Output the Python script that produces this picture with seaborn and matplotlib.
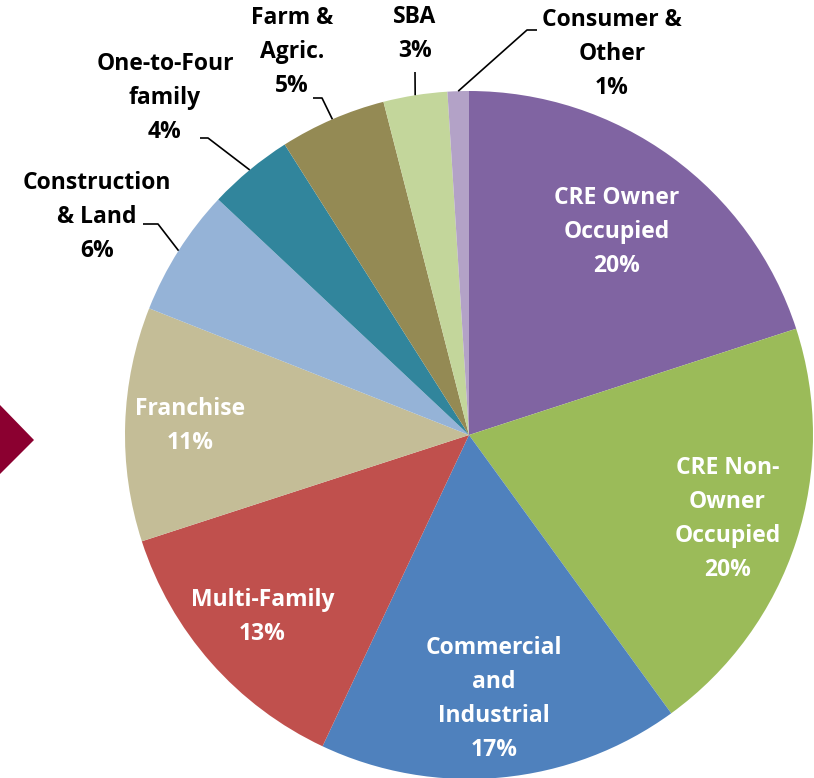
import matplotlib
matplotlib.use('Agg')
import matplotlib.pyplot as plt
import numpy as np
import seaborn as sns
from matplotlib.patches import Polygon

sns.set_theme(style='white')
plt.rcParams['font.family'] = ['Open Sans', 'DejaVu Sans']

# Loan portfolio mix, clockwise from 12 o'clock
categories = ['CRE Owner\nOccupied', 'CRE Non-\nOwner\nOccupied', 'Commercial\nand\nIndustrial',
              'Multi-Family', 'Franchise', 'Construction\n& Land', 'One-to-Four\nfamily',
              'Farm &\nAgric.', 'SBA', 'Consumer &\nOther']
shares = [20, 20, 17, 13, 11, 6, 4, 5, 3, 1]
colors = ['#8064A2', '#9BBB59', '#4F81BD', '#C0504D', '#C4BD97',
          '#95B3D7', '#31859C', '#948A54', '#C3D69B', '#B3A2C7']

W, H = 814, 778
CX, CY, R = 469, 435, 344
FS = 16.5
LS = 1.55


def Y(y):
    # pixel row (from top) -> data y
    return H - y


fig = plt.figure(figsize=(W / 100, H / 100), dpi=100)
ax = fig.add_axes([0, 0, 1, 1])

wedges, _ = ax.pie(shares, colors=sns.color_palette(colors), startangle=90, counterclock=False,
                   center=(CX, Y(CY)), radius=R, wedgeprops=dict(linewidth=0))
ax.set_xlim(0, W)
ax.set_ylim(0, H)
ax.set_aspect('equal')
ax.axis('off')

# inside labels: radius fraction along the wedge mid-angle
inner = {0: 0.73, 1: 0.79, 2: 0.77, 3: 0.80, 4: 0.81}
for i, frac in inner.items():
    w = wedges[i]
    mid = np.deg2rad((w.theta1 + w.theta2) / 2)
    x = CX + frac * R * np.cos(mid)
    y = Y(CY) + frac * R * np.sin(mid)
    ax.text(x, y, f'{categories[i]}\n{shares[i]}%', color='white', fontsize=FS,
            fontweight='bold', ha='center', va='center', linespacing=LS)

# outside labels with leader lines: (text centre, elbow, end) in pixels
outer = {
    5: ((97, 217), (158, 224), (143, 224)),
    6: ((165, 98), (208, 138), (200, 138)),
    7: ((292, 52), (322, 98), (313, 98)),
    8: ((415, 34), (415, 72), (415, 72)),
    9: ((612, 54), (527, 30), (537, 30)),
}
for i, (tpos, elbow, end) in outer.items():
    w = wedges[i]
    mid = np.deg2rad((w.theta1 + w.theta2) / 2)
    x0 = CX + R * np.cos(mid)
    y0 = Y(CY) + R * np.sin(mid)
    ax.plot([x0, elbow[0], end[0]], [y0, Y(elbow[1]), Y(end[1])], color='black', lw=1.2,
            solid_capstyle='butt')
    ax.text(tpos[0], Y(tpos[1]), f'{categories[i]}\n{shares[i]}%', color='black', fontsize=FS,
            fontweight='bold', ha='center', va='center', linespacing=LS)

# decorative arrow on the left edge
ax.add_patch(Polygon([(0, Y(405)), (34, Y(440)), (0, Y(474))], closed=True,
                     facecolor='#8B0030', edgecolor='none'))

fig.savefig('out.png', dpi=100)
